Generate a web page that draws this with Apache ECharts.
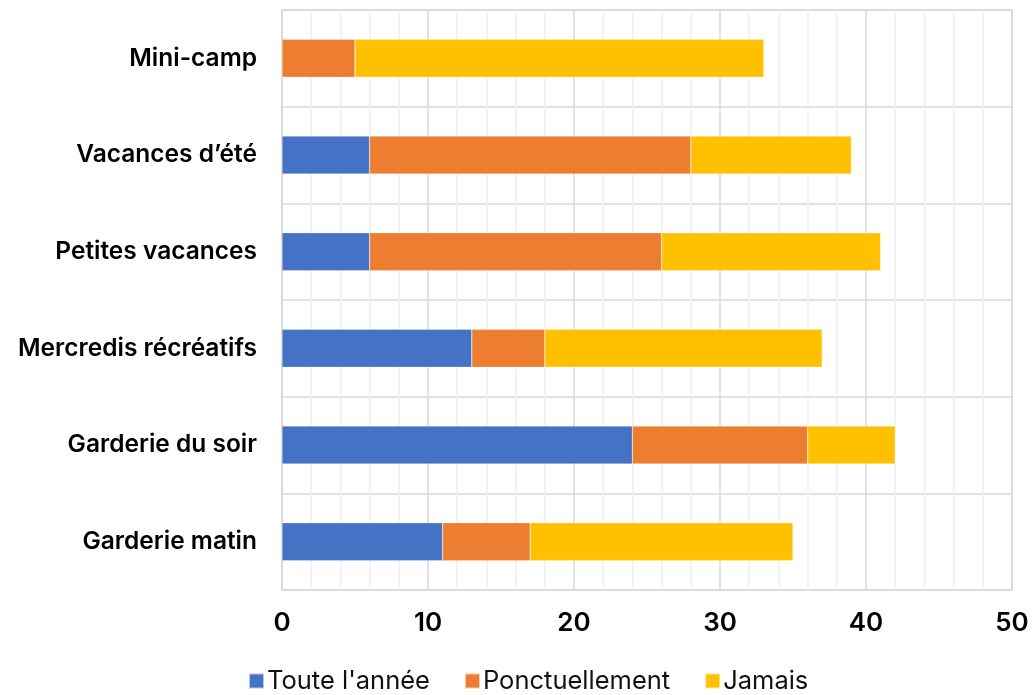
<!DOCTYPE html>
<html>
<head>
<meta charset="utf-8">
<script src="https://cdn.jsdelivr.net/npm/echarts@6/dist/echarts.min.js"></script>
<style>html,body{margin:0;padding:0;background:#fff}#c{width:1032px;height:695px}</style>
</head>
<body>
<div id="c"></div>
<script>
const categories = ['Garderie matin', 'Garderie du soir', 'Mercredis récréatifs', 'Petites vacances', 'Vacances d’été', 'Mini-camp'];
const seriesNames = ["Toute l'année", 'Ponctuellement', 'Jamais'];
const touteAnnee = [11, 24, 13, 6, 6, 0];
const ponctuellement = [6, 12, 5, 20, 22, 5];
const jamais = [18, 6, 19, 15, 11, 28];
const colors = ['#4472C4', '#ED7D31', '#FFC000'];

const chart = echarts.init(document.getElementById('c'));
const font = 'Inter, "Noto Sans", sans-serif';
chart.setOption({
  animation: false,
  color: colors,
  grid: { left: 282, right: 20, top: 10, bottom: 105, show: true, borderColor: '#d9d9d9', borderWidth: 1.5 },
  legend: {
    left: 243, bottom: -4, itemWidth: 15, itemHeight: 15, itemGap: 34,
    icon: 'rect',
    textStyle: { fontFamily: font, fontSize: 25.5, color: '#111', padding: [0,0,0,-2] },
    data: seriesNames
  },
  xAxis: {
    type: 'value', min: 0, max: 50, interval: 10,
    axisLine: { show: false }, axisTick: { show: false },
    axisLabel: { fontFamily: font, fontSize: 26, fontWeight: 600, color: '#000', margin: 20 },
    splitLine: { show: true, lineStyle: { color: '#d9d9d9', width: 1.5 } },
    minorTick: { show: false, splitNumber: 5 },
    minorSplitLine: { show: true, lineStyle: { color: '#efefef', width: 1.5 } }
  },
  yAxis: {
    type: 'category', data: categories,
    axisLine: { show: true, lineStyle: { color: '#d9d9d9', width: 1.5 } },
    axisTick: { show: false },
    axisLabel: { fontFamily: font, fontSize: 24.5, fontWeight: 600, color: '#000', margin: 25 },
    splitLine: { show: true, lineStyle: { color: '#d9d9d9', width: 1.5 } }
  },
  series: [touteAnnee, ponctuellement, jamais].map((d, i) => ({
    name: seriesNames[i], type: 'bar', stack: 'total', data: d, barWidth: 38,
    itemStyle: { borderColor: 'rgba(255,255,255,0.6)', borderWidth: 0.5 }
  }))
});
</script>
</body>
</html>
